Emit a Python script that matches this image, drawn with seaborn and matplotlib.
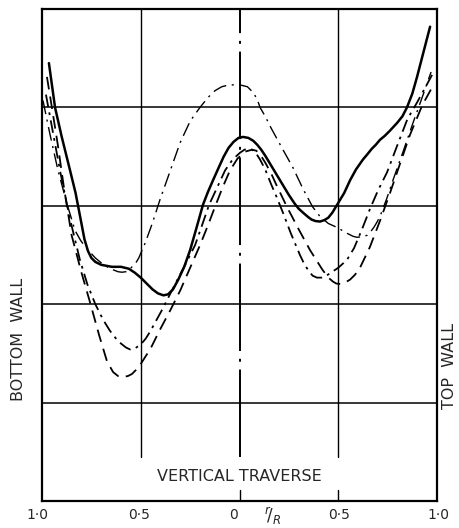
import matplotlib
matplotlib.use("Agg")
import matplotlib.pyplot as plt
import seaborn as sns
import pandas as pd

# r/R position: -1 = bottom wall (left), +1 = top wall (right)
solid_x = [-0.965, -0.934, -0.90, -0.858, -0.83, -0.805, -0.785, -0.767, -0.75, -0.73, -0.70, -0.646, -0.60, -0.56, -0.53, -0.50, -0.47, -0.44, -0.413, -0.385, -0.362, -0.337, -0.31, -0.28, -0.25, -0.22, -0.185, -0.16, -0.134, -0.105, -0.08, -0.055, -0.03, -0.005, 0.018, 0.045, 0.07, 0.09, 0.11, 0.13, 0.154, 0.19, 0.22, 0.25, 0.28, 0.30, 0.322, 0.345, 0.365, 0.385, 0.408, 0.43, 0.45, 0.47, 0.494, 0.53, 0.56, 0.59, 0.625, 0.65, 0.67, 0.69, 0.711, 0.735, 0.76, 0.797, 0.825, 0.848, 0.875, 0.899, 0.93, 0.965]
solid_y = [4.45, 4.00, 3.70, 3.36, 3.13, 2.87, 2.66, 2.54, 2.47, 2.43, 2.40, 2.38, 2.38, 2.36, 2.32, 2.27, 2.21, 2.15, 2.11, 2.09, 2.10, 2.15, 2.25, 2.38, 2.55, 2.76, 3.01, 3.14, 3.26, 3.39, 3.50, 3.59, 3.65, 3.69, 3.70, 3.69, 3.66, 3.62, 3.57, 3.51, 3.43, 3.31, 3.21, 3.11, 3.02, 2.97, 2.93, 2.89, 2.86, 2.845, 2.84, 2.855, 2.88, 2.93, 3.01, 3.13, 3.26, 3.37, 3.47, 3.53, 3.58, 3.62, 3.67, 3.71, 3.76, 3.84, 3.91, 4.00, 4.14, 4.31, 4.55, 4.82]

b_x = [-0.995, -0.96, -0.919, -0.875, -0.833, -0.805, -0.78, -0.73, -0.70, -0.67, -0.64, -0.615, -0.595, -0.575, -0.56, -0.544, -0.525, -0.51, -0.495, -0.478, -0.44, -0.403, -0.35, -0.301, -0.25, -0.20, -0.16, -0.124, -0.09, -0.06, -0.023, 0.01, 0.04, 0.07, 0.09, 0.104, 0.13, 0.16, 0.19, 0.22, 0.27, 0.322, 0.37, 0.408, 0.45, 0.494, 0.545, 0.575, 0.595, 0.62, 0.646, 0.665, 0.68, 0.695, 0.711, 0.745, 0.777, 0.83, 0.878, 0.93, 0.97]
b_y = [4.07, 3.73, 3.36, 3.03, 2.75, 2.65, 2.58, 2.47, 2.42, 2.38, 2.35, 2.33, 2.325, 2.33, 2.35, 2.38, 2.42, 2.47, 2.54, 2.62, 2.83, 3.06, 3.36, 3.64, 3.86, 4.00, 4.10, 4.17, 4.21, 4.225, 4.23, 4.225, 4.21, 4.15, 4.08, 4.00, 3.91, 3.79, 3.68, 3.57, 3.39, 3.17, 2.99, 2.89, 2.82, 2.78, 2.72, 2.69, 2.68, 2.685, 2.70, 2.74, 2.78, 2.83, 2.89, 3.07, 3.26, 3.56, 3.84, 4.13, 4.36]

c_x = [-0.975, -0.95, -0.92, -0.89, -0.85, -0.80, -0.757, -0.71, -0.671, -0.64, -0.615, -0.59, -0.565, -0.545, -0.525, -0.504, -0.45, -0.403, -0.35, -0.30, -0.25, -0.20, -0.16, -0.124, -0.085, -0.048, -0.01, 0.028, 0.063, 0.085, 0.105, 0.13, 0.16, 0.185, 0.24, 0.30, 0.357, 0.42, 0.45, 0.473, 0.49, 0.51, 0.535, 0.56, 0.585, 0.61, 0.66, 0.71, 0.762, 0.82, 0.863, 0.925, 0.985]
c_y = [4.31, 4.00, 3.62, 3.20, 2.70, 2.32, 2.02, 1.68, 1.42, 1.31, 1.27, 1.26, 1.27, 1.29, 1.33, 1.38, 1.55, 1.74, 1.94, 2.14, 2.37, 2.60, 2.80, 2.99, 3.19, 3.36, 3.48, 3.55, 3.57, 3.56, 3.52, 3.44, 3.33, 3.22, 2.99, 2.76, 2.55, 2.35, 2.27, 2.23, 2.21, 2.205, 2.22, 2.25, 2.30, 2.37, 2.58, 2.84, 3.13, 3.47, 3.72, 4.02, 4.24]

d_x = [-0.98, -0.945, -0.909, -0.86, -0.808, -0.77, -0.73, -0.69, -0.656, -0.625, -0.60, -0.575, -0.554, -0.53, -0.50, -0.475, -0.453, -0.39, -0.327, -0.275, -0.225, -0.19, -0.154, -0.11, -0.073, -0.035, 0.003, 0.025, 0.043, 0.065, 0.085, 0.104, 0.13, 0.16, 0.19, 0.22, 0.26, 0.306, 0.33, 0.35, 0.37, 0.392, 0.415, 0.44, 0.47, 0.50, 0.544, 0.58, 0.62, 0.661, 0.70, 0.747, 0.80, 0.85, 0.899, 0.94, 0.975]
d_y = [4.13, 3.75, 3.36, 2.88, 2.45, 2.20, 2.00, 1.84, 1.73, 1.65, 1.60, 1.56, 1.54, 1.55, 1.59, 1.65, 1.72, 1.95, 2.20, 2.40, 2.60, 2.80, 3.01, 3.20, 3.36, 3.47, 3.54, 3.57, 3.58, 3.57, 3.53, 3.47, 3.37, 3.22, 3.08, 2.93, 2.72, 2.50, 2.40, 2.34, 2.29, 2.27, 2.27, 2.29, 2.33, 2.37, 2.45, 2.57, 2.76, 2.97, 3.15, 3.34, 3.62, 3.88, 4.05, 4.20, 4.33]

tick_pos = [-1.0, -0.5, 0.0, 0.5, 1.0]
tick_labels = ["1·0", "0·5", "0", "0·5", "1·0"]

sns.set_theme(style="white")
plt.rcParams["font.family"] = ["DejaVu Sans"]

fig = plt.figure(figsize=(4.59, 5.28), dpi=100)
ax = fig.add_axes([42 / 459, 27 / 528, 395 / 459, 492 / 528])
ax.set_xlim(-1.0, 1.0)
ax.set_ylim(0, 5.0)

# grid
for yv in [1, 2, 3, 4]:
    ax.axhline(yv, color="black", lw=1.1, zorder=1)
for xv in [-0.5, 0.5]:
    ax.plot([xv, xv], [0.45, 5.0], color="black", lw=1.0, zorder=1)
ax.plot([0, 0], [0.45, 5.0], color="black", lw=1.4, zorder=1,
        linestyle=(0, (45, 4, 1.5, 4)))
for xv in [0.0, 0.5]:
    ax.plot([xv, xv], [0, 0.11], color="black", lw=1.0, zorder=1)

curves = [
    (solid_x, solid_y, dict(lw=1.8, linestyle="-")),
    (b_x, b_y, dict(lw=1.0, linestyle=(0, (10, 4, 1.5, 4)))),
    (c_x, c_y, dict(lw=1.3, linestyle=(0, (7, 4)))),
    (d_x, d_y, dict(lw=1.3, linestyle=(0, (7, 3, 1.5, 3)))),
]
for xs, ys, st in curves:
    df = pd.DataFrame({"x": xs, "y": ys})
    sns.lineplot(data=df, x="x", y="y", ax=ax, color="black", sort=False,
                 estimator=None, zorder=3, **st)

ax.set_xlabel("")
ax.set_ylabel("")
ax.set_xticks([])
ax.set_yticks([])
for sp in ax.spines.values():
    sp.set_color("black")
    sp.set_linewidth(1.6)

# tick labels below
label_px = [37, 139, 233, 339, 438]
for px, lab in zip(label_px, tick_labels):
    fig.text(px / 459, 1 - 515 / 528, lab, ha="center", va="center", fontsize=10)
fig.text(273 / 459, 1 - 516 / 528, r"$^{r}\!/_{R}$", ha="center", va="center", fontsize=12)

ax.text(0.0, 0.245, "VERTICAL TRAVERSE", ha="center", va="center", fontsize=11.5)
fig.text(19 / 459, 1 - 339 / 528, "BOTTOM  WALL", rotation=90, ha="center", va="center", fontsize=11.5)
fig.text(450 / 459, 1 - 366 / 528, "TOP  WALL", rotation=90, ha="center", va="center", fontsize=11.5)

fig.savefig("out.png", dpi=100)
